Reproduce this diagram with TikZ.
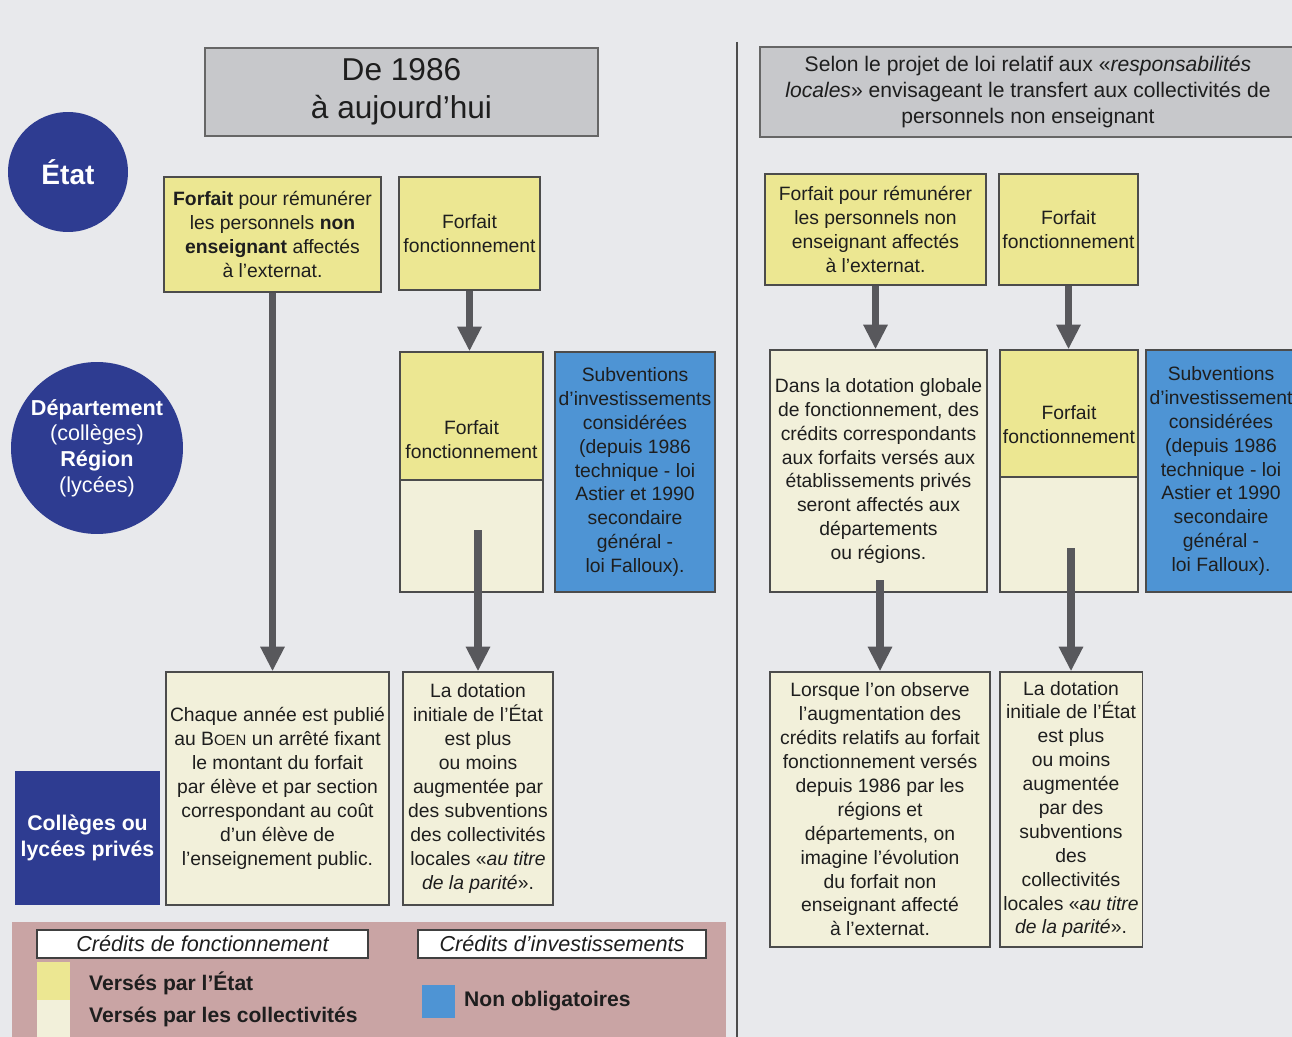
\documentclass[tikz,border=0pt]{standalone}
\usepackage{fontspec}
\setmainfont{Liberation Sans}
\usetikzlibrary{arrows.meta}
\definecolor{bgpaper}{RGB}{232,233,236}
\definecolor{statey}{RGB}{236,231,146}
\definecolor{localc}{RGB}{242,240,218}
\definecolor{invblue}{RGB}{78,148,212}
\definecolor{navy}{RGB}{46,60,145}
\definecolor{hdrgrey}{RGB}{199,200,203}
\definecolor{legpink}{RGB}{201,164,164}
\definecolor{arrgrey}{RGB}{88,88,92}
\definecolor{ink}{RGB}{30,30,30}

\begin{document}
\begin{tikzpicture}[x=0.02cm, y=-0.02cm,
  box/.style={draw=black!70, line width=0.8pt, align=center, inner sep=2pt,
    text=ink, font=\fontsize{11}{13.6}\selectfont},
  yellowbox/.style={box, fill=statey},
  creambox/.style={box, fill=localc},
  bluebox/.style={box, fill=invblue},
  boxtext/.style={align=center, inner sep=0pt, text=ink, font=\fontsize{11}{13.6}\selectfont},
  header/.style={draw=black!60, line width=1pt, fill=hdrgrey, align=center, text=ink},
  tier/.style={circle, fill=navy, text=white, align=center, inner sep=0pt},
  arrow/.style={-{Triangle[length=14pt,width=13pt]}, line width=4.5pt, draw=arrgrey},
  legbox/.style={draw=black!75, line width=0.8pt, fill=white, text=ink,
    font=\itshape\fontsize{12.3}{14}\selectfont, minimum height=0.56cm},
  legtext/.style={anchor=west, font=\bfseries\fontsize{12}{14}\selectfont, text=ink},
  swatch/.style={minimum width=0.66cm, inner sep=0pt}
]
\fill[bgpaper] (0,0) rectangle (1292,1037);
\useasboundingbox (0,0) rectangle (1292,1037);
\draw[black!70, line width=1.2pt] (737,42) -- (737,1037);

\node[tier, minimum size=2.4cm, font=\bfseries\fontsize{16}{19}\selectfont] (etat) at (68,172) {État};
\node[tier, minimum size=3.44cm, font=\fontsize{12.3}{14.6}\selectfont] (dept) at (97,448)
  {\textbf{Département}\\(collèges)\\\textbf{Région}\\(lycées)};
\node[fill=navy, text=white, minimum width=2.82cm, minimum height=2.68cm, align=center,
  font=\bfseries\fontsize{12.1}{14.7}\selectfont] (prives) at (87.5,838) {Collèges ou\\lycées privés};

\node[header, minimum width=7.86cm, minimum height=1.76cm, font=\fontsize{18}{21.5}\selectfont]
  (hdrL) at (401.5,92) {De 1986\\à aujourd'hui};
\node[header, minimum width=10.72cm, minimum height=1.8cm, font=\fontsize{12}{15}\selectfont]
  (hdrR) at (1028,92) {Selon le projet de loi relatif aux «\textit{responsabilités}\\\textit{locales}» envisageant le transfert aux collectivités de\\personnels non enseignant};

\node[yellowbox, minimum width=4.34cm, minimum height=2.3cm] (forfNE) at (272.5,234.5)
  {\textbf{Forfait} pour rémunérer\\les personnels \textbf{non}\\\textbf{enseignant} affectés\\à l'externat.};
\node[yellowbox, minimum width=2.82cm, minimum height=2.26cm] (forfF1) at (469.5,233.5) {Forfait\\fonctionnement};
\node[yellowbox, minimum width=2.86cm, minimum height=2.56cm] (forfF2) at (471.5,416) {};
\node[creambox, minimum width=2.86cm, minimum height=2.24cm] (forfF2b) at (471.5,536) {};
\node[boxtext] (forfF2t) at (471.5,440) {Forfait\\fonctionnement};
\node[bluebox, minimum width=3.2cm, minimum height=4.8cm] (subvL) at (635,472)
  {Subventions\\d'investissements\\considérées\\(depuis 1986\\technique - loi\\Astier et 1990\\secondaire\\général -\\loi Falloux).};
\node[creambox, minimum width=4.46cm, minimum height=4.66cm] (chaque) at (277.5,788.5)
  {Chaque année est publié\\au B{\fontsize{8.5}{10}\selectfont OEN} un arrêté fixant\\le montant du forfait\\par élève et par section\\correspondant au coût\\d'un élève de\\l'enseignement public.};
\node[creambox, minimum width=3cm, minimum height=4.66cm] (dotL) at (478,788.5)
  {La dotation\\initiale de l'État\\est plus\\ou moins\\augmentée par\\des subventions\\des collectivités\\locales «\textit{au titre}\\\textit{de la parité}».};

\node[yellowbox, minimum width=4.42cm, minimum height=2.22cm] (forfNE2) at (875.5,229.5)
  {Forfait pour rémunérer\\les personnels non\\enseignant affectés\\à l'externat.};
\node[yellowbox, minimum width=2.78cm, minimum height=2.22cm] (forfF3) at (1068.5,229.5) {Forfait\\fonctionnement};
\node[creambox, minimum width=4.34cm, minimum height=4.84cm] (dans) at (878.5,471)
  {Dans la dotation globale\\de fonctionnement, des\\crédits correspondants\\aux forfaits versés aux\\établissements privés\\seront affectés aux\\départements\\ou régions.};
\node[yellowbox, minimum width=2.76cm, minimum height=2.54cm] (forfF4) at (1069,413.5) {};
\node[creambox, minimum width=2.76cm, minimum height=2.3cm] (forfF4b) at (1069,534.5) {};
\node[boxtext] (forfF4t) at (1069,425) {Forfait\\fonctionnement};
\node[bluebox, minimum width=3cm, minimum height=4.84cm] (subvR) at (1221,471)
  {Subventions\\d'investissement\\considérées\\(depuis 1986\\technique - loi\\Astier et 1990\\secondaire\\général -\\loi Falloux).};
\node[creambox, minimum width=4.4cm, minimum height=5.5cm] (lorsque) at (880,809.5)
  {Lorsque l'on observe\\l'augmentation des\\crédits relatifs au forfait\\fonctionnement versés\\depuis 1986 par les\\régions et\\départements, on\\imagine l'évolution\\du forfait non\\enseignant affecté\\à l'externat.};
\node[creambox, minimum width=2.76cm, minimum height=5.5cm] (dotR) at (1071,809.5)
  {La dotation\\initiale de l'État\\est plus\\ou moins\\augmentée\\par des\\subventions\\des\\collectivités\\locales «\textit{au titre}\\\textit{de la parité}».};

\coordinate (dropL) at (478,530);
\coordinate (dropR1) at (880,580);
\coordinate (dropR2) at (1071,548);
\draw[arrow] (forfNE.south) -- (forfNE.south |- chaque.north);
\draw[arrow] (forfF1.south) -- (forfF1.south |- forfF2.north);
\draw[arrow] (dropL) -- (dotL.north);
\draw[arrow] (forfNE2.south) -- (forfNE2.south |- dans.north);
\draw[arrow] (forfF3.south) -- (forfF3.south |- forfF4.north);
\draw[arrow] (dropR1) -- (lorsque.north);
\draw[arrow] (dropR2) -- (dotR.north);

\node[fill=legpink, anchor=north west, minimum width=14.28cm, minimum height=2.4cm, inner sep=0pt] (legend) at (12,922) {};
\node[legbox, minimum width=6.62cm] (lgFonct) at (202.5,944) {Crédits de fonctionnement};
\node[legbox, minimum width=5.76cm] (lgInv) at (562,944) {Crédits d'investissements};
\node[swatch, fill=statey, minimum height=0.76cm] (swState) at (53.5,981) {};
\node[swatch, fill=localc, minimum height=0.74cm] (swLocal) at (53.5,1018.5) {};
\node[swatch, fill=invblue, minimum height=0.66cm] (swOpt) at (438.5,1001.5) {};
\node[legtext] (lgState) at (83,983) {Versés par l'État};
\node[legtext] (lgLocal) at (83,1017) {Versés par les collectivités};
\node[legtext] (lgOpt) at (458,1001) {Non obligatoires};
\end{tikzpicture}
\end{document}
